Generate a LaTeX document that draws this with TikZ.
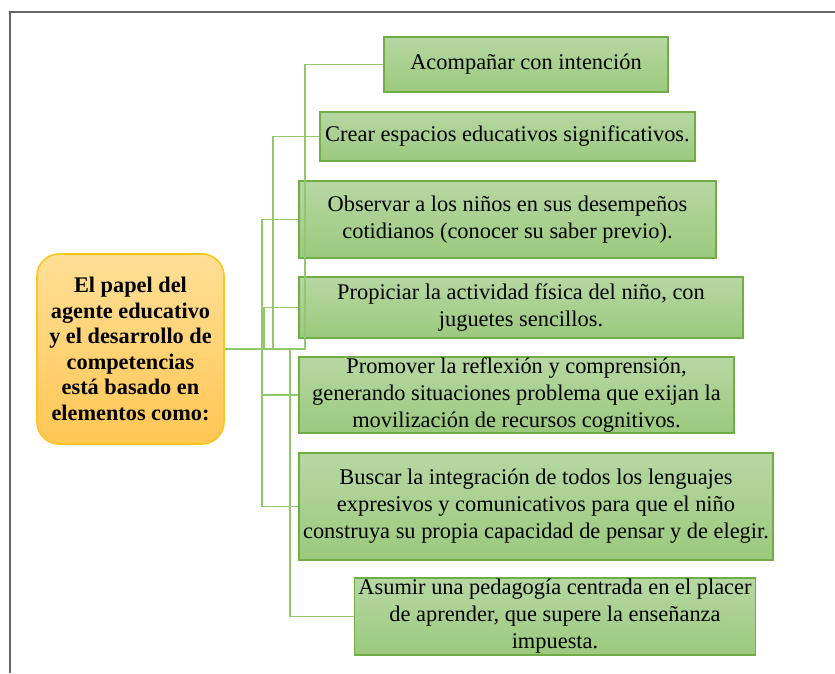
\documentclass[tikz,border=0pt]{standalone}
\usepackage{fontspec}
\setmainfont{Liberation Serif}
\definecolor{boxline}{RGB}{112,173,71}
\definecolor{boxtop}{RGB}{183,215,163}
\definecolor{boxbot}{RGB}{155,201,125}
\definecolor{linkgreen}{RGB}{146,199,110}
\definecolor{maintop}{RGB}{255,223,150}
\definecolor{mainbot}{RGB}{255,198,85}
\definecolor{mainline}{RGB}{255,196,30}
\tikzset{
  item/.style={draw=boxline, line width=1.6pt, top color=boxtop, bottom color=boxbot,
    align=center, inner sep=0pt, font=\fontsize{22.4}{27}\selectfont},
  central/.style={draw=mainline, line width=1.6pt, rounded corners=22pt,
    top color=maintop, bottom color=mainbot, align=center, inner sep=0pt,
    font=\fontsize{22.3}{25.6}\selectfont\bfseries},
  link/.style={draw=linkgreen, line width=1.8pt}
}
\begin{document}
\begin{tikzpicture}[x=1pt,y=-1pt]
      \useasboundingbox (0,0) rectangle (835,673);
      \draw[black!60, line width=1.5pt] (10,673) -- (10,12) -- (835,12);
      \node[central, minimum width=187pt, minimum height=190pt] (0) at (130.5,349)
        {El papel del\\agente educativo\\y el desarrollo de\\competencias\\está basado en\\elementos como:};
      \node[item, minimum width=284pt, minimum height=55pt] (1) at (526,64.5)
        {Acompañar con intención};
      \node[item, minimum width=375pt, minimum height=49pt] (2) at (507.5,136.5)
        {Crear espacios educativos significativos.};
      \node[item, minimum width=417pt, minimum height=77pt] (3) at (507.5,219.5)
        {Observar a los niños en sus desempeños\\cotidianos (conocer su saber previo).};
      \node[item, minimum width=444pt, minimum height=61pt] (4) at (521,307.5)
        {Propiciar la actividad física del niño, con\\juguetes sencillos.};
      \node[item, minimum width=435pt, minimum height=76pt] (5) at (516.5,395)
        {Promover la reflexión y comprensión,\\generando situaciones problema que exijan la\\movilización de recursos cognitivos.};
      \node[item, minimum width=474pt, minimum height=107pt] (6) at (536,506.5)
        {Buscar la integración de todos los lenguajes\\expresivos y comunicativos para que el niño\\construya su propia capacidad de pensar y de elegir.};
      \node[item, minimum width=401pt, minimum height=77pt] (7) at (555,616.5)
        {Asumir una pedagogía centrada en el placer\\de aprender, que supere la enseñanza\\impuesta.};
      \begin{scope}[link]
        \draw (0.east) -- ++(80,0) |- (1.west);
        \draw (0.east) -- ++(48,0) |- (2.west);
        \draw (0.east) -- ++(37,0) |- (3.west);
        \draw (0.east) -- ++(39,0) |- (4.west);
        \draw (0.east) -- ++(37,0) |- (5.west);
        \draw (0.east) -- ++(37,0) |- (6.west);
        \draw (0.east) -- ++(65,0) |- (7.west);
      \end{scope}
    \end{tikzpicture}
\end{document}
